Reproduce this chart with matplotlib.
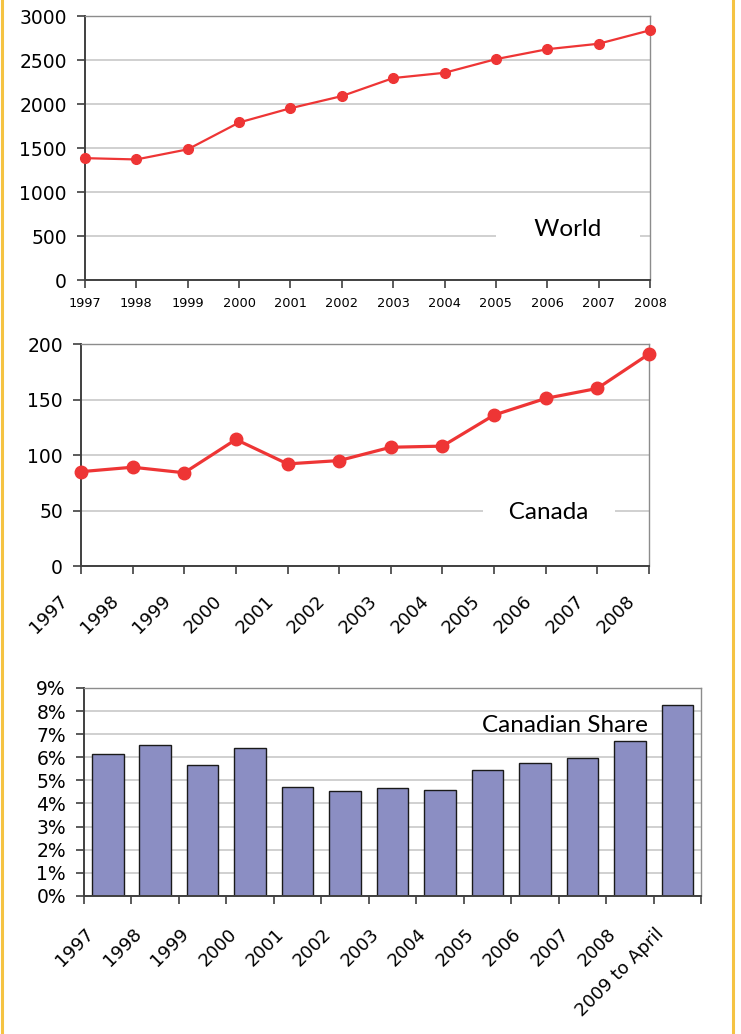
import matplotlib
matplotlib.use("Agg")
import matplotlib.pyplot as plt
from matplotlib.lines import Line2D

years = [1997, 1998, 1999, 2000, 2001, 2002, 2003, 2004, 2005, 2006, 2007, 2008]
world = [1385, 1370, 1485, 1790, 1952, 2090, 2295, 2355, 2510, 2623, 2685, 2838]
canada = [85, 89, 84, 114, 92, 95, 107, 108, 136, 151, 160, 191]

share_labels = ["1997", "1998", "1999", "2000", "2001", "2002", "2003", "2004",
                "2005", "2006", "2007", "2008", "2009 to April"]
share = [6.13, 6.54, 5.68, 6.38, 4.70, 4.53, 4.65, 4.57, 5.44, 5.76, 5.96, 6.71, 8.28]

red = "#EE3535"
grid_col = "#C8C8C8"
label_font = ["Lato", "DejaVu Sans"]


def style_axes(ax):
    ax.set_axisbelow(True)
    ax.yaxis.grid(True, color=grid_col, linewidth=1.2)
    for s in ["top", "right"]:
        ax.spines[s].set_color("#8C8C8C")
        ax.spines[s].set_linewidth(1.0)
    for s in ["left", "bottom"]:
        ax.spines[s].set_color("#404040")
        ax.spines[s].set_linewidth(1.4)
    ax.tick_params(direction="out", length=6, width=1.2, color="#404040")


def rotated_labels(ax, xs, labels, dx, dy, size):
    # Excel style 45 degree labels, hung from their top-right corner
    ax.set_xticklabels([""] * len(xs))
    for x, lab in zip(xs, labels):
        ax.annotate(lab, xy=(x, 0), xycoords=("data", "axes fraction"),
                    xytext=(dx, dy), textcoords="offset points",
                    rotation=45, ha="right", va="top", rotation_mode="anchor",
                    fontsize=size, annotation_clip=False)


fig = plt.figure(figsize=(7.41, 10.34), dpi=100)

# World
ax1 = fig.add_axes([0.1147, 0.7292, 0.7625, 0.2553])
ax1.plot(years, world, color=red, lw=1.6, marker="o", ms=7, clip_on=False, zorder=3)
ax1.set_xlim(1997, 2008)
ax1.set_ylim(0, 3000)
ax1.set_xticks(years)
ax1.set_yticks(range(0, 3001, 500))
style_axes(ax1)
ax1.tick_params(axis="y", labelsize=13.5, pad=7)
ax1.tick_params(axis="x", labelsize=9.3, pad=6)
ax1.text(0.855, 0.193, "     World     ", transform=ax1.transAxes, ha="center", va="center",
         fontsize=17.5, family=label_font,
         bbox=dict(boxstyle="square,pad=0.3", facecolor="white", edgecolor="none"))

# Canada
ax2 = fig.add_axes([0.1093, 0.4526, 0.7665, 0.2147])
ax2.plot(years, canada, color=red, lw=2.3, marker="o", ms=9, clip_on=False, zorder=3)
ax2.set_xlim(1997, 2008)
ax2.set_ylim(0, 200)
ax2.set_xticks(years)
ax2.set_yticks(range(0, 201, 50))
style_axes(ax2)
ax2.tick_params(axis="y", labelsize=13.5, pad=7)
rotated_labels(ax2, years, [str(y) for y in years], -16.5, -18.6, 13)
ax2.text(0.824, 0.239, "   Canada   ", transform=ax2.transAxes, ha="center", va="center",
         fontsize=17.5, family=label_font,
         bbox=dict(boxstyle="square,pad=0.3", facecolor="white", edgecolor="none"))

# Canadian share
ax3 = fig.add_axes([0.1134, 0.1335, 0.8327, 0.2012])
xpos = list(range(len(share)))
ax3.bar(xpos, share, width=0.665, color="#8B8EC3", edgecolor="#1A1A1A", linewidth=1.0, zorder=2)
ax3.set_xlim(-0.5, len(share) - 0.5)
ax3.set_ylim(0, 9)
ax3.set_yticks(range(0, 10))
ax3.set_yticklabels([f"{v}%" for v in range(0, 10)])
ax3.set_xticks(xpos)
ax3.set_xticks([x - 0.5 for x in range(len(share) + 1)], minor=True)
style_axes(ax3)
ax3.tick_params(axis="x", which="major", length=0)
ax3.tick_params(axis="x", which="minor", direction="out", length=6, width=1.2, color="#404040")
ax3.tick_params(axis="y", labelsize=13.5, pad=7)
rotated_labels(ax3, xpos, share_labels, -16.5, -21, 13)
ax3.text(0.78, 0.817, "Canadian Share", transform=ax3.transAxes, ha="center", va="center",
         fontsize=17.5, family=label_font)

# yellow page border
for xb in [0.003, 0.9895]:
    fig.add_artist(Line2D([xb, xb], [0, 1], transform=fig.transFigure,
                          color="#F5C342", lw=2.2))

fig.savefig("out.png", dpi=100)
